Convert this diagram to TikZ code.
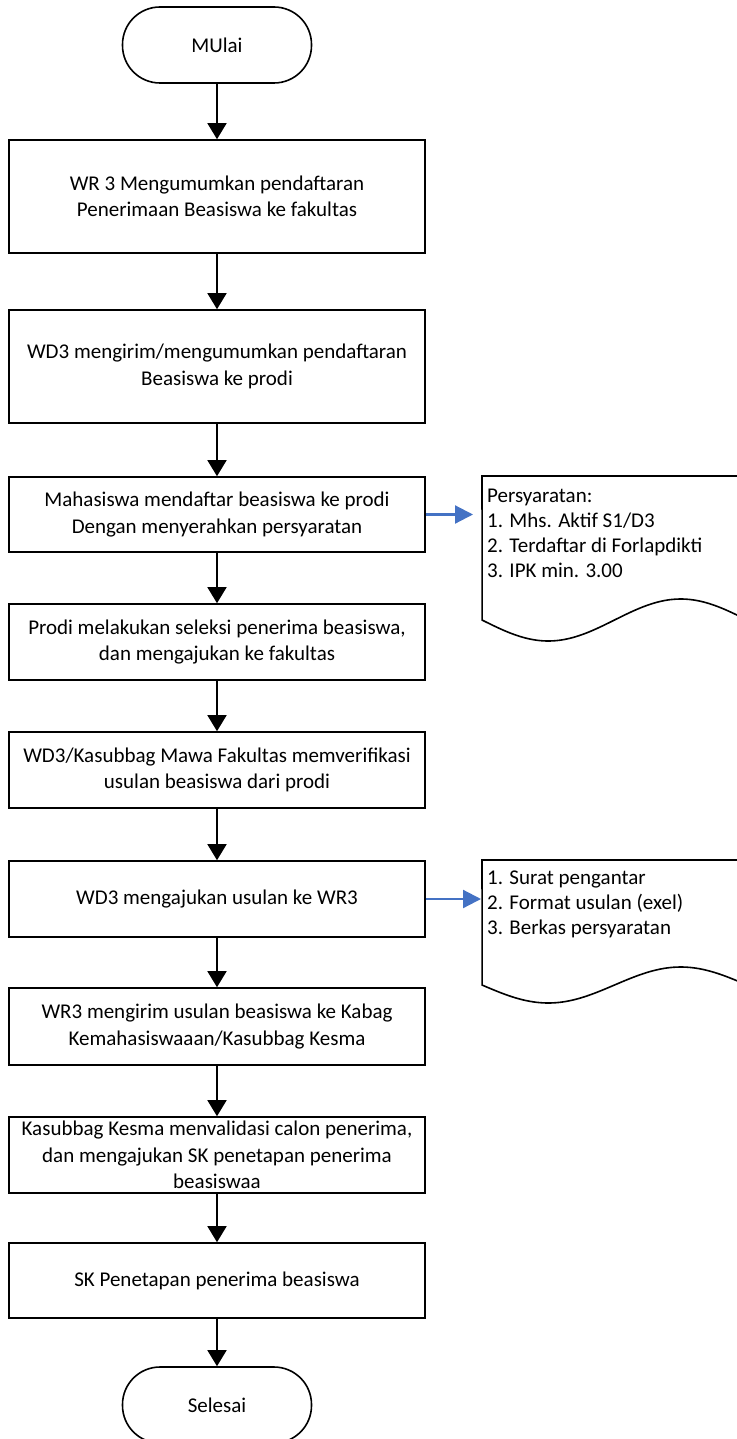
\documentclass[tikz,border=0pt]{standalone}
\usepackage{fontspec}
\setmainfont{Carlito}
\usetikzlibrary{arrows.meta}
\definecolor{noteblue}{HTML}{4472C4}
\begin{document}
\begin{tikzpicture}[x=1pt,y=-1pt,
  txt/.style={font=\fontsize{21}{26.5}\selectfont},
  proc/.style={txt,draw,line width=1.6pt,minimum width=416pt,align=center,inner sep=0pt},
  term/.style={txt,draw,line width=1.6pt,rounded corners=37.5pt,minimum width=189pt,minimum height=76pt,inner sep=0pt},
  flow/.style={line width=1.6pt,-{Triangle[length=16pt,width=19pt]}},
  note/.style={line width=2.2pt,draw=noteblue,-{Triangle[length=18pt,width=18pt]},color=noteblue},
  docline/.style={line width=1.6pt},
  doctext/.style={font=\fontsize{21}{25}\selectfont,align=left,inner sep=0pt,anchor=west}
]
\useasboundingbox (0,0) rectangle (736,1439);

\node[term] (m) at (217,45) {MUlai};
\node[proc,minimum height=113pt] (b1) at (217,196.5) {WR 3 Mengumumkan pendaftaran\\Penerimaan Beasiswa ke fakultas};
\node[proc,minimum height=113pt] (b2) at (217,366.5) {WD3 mengirim/mengumumkan pendaftaran\\Beasiswa ke prodi};
\node[proc,minimum height=75pt] (b3) at (217,514.5) {Mahasiswa mendaftar beasiswa ke prodi\\Dengan menyerahkan persyaratan};
\node[proc,minimum height=76pt] (b4) at (217,642) {Prodi melakukan seleksi penerima beasiswa,\\dan mengajukan ke fakultas};
\node[proc,minimum height=76pt] (b5) at (217,770) {WD3/Kasubbag Mawa Fakultas memverifikasi\\usulan beasiswa dari prodi};
\node[proc,minimum height=76pt] (b6) at (217,899) {WD3 mengajukan usulan ke WR3};
\node[proc,minimum height=77pt] (b7) at (217,1026.5) {WR3 mengirim usulan beasiswa ke Kabag\\Kemahasiswaaan/Kasubbag Kesma};
\node[proc,minimum height=76pt] (b8) at (217,1155) {Kasubbag Kesma menvalidasi calon penerima,\\dan mengajukan SK penetapan penerima\\beasiswaa};
\node[proc,minimum height=75pt] (b9) at (217,1280.5) {SK Penetapan penerima beasiswa};
\node[term] (s) at (217,1405) {Selesai};

% documents
\draw[docline] (482,476) -- (750,476) -- (750,620)
  -- plot[domain=1:0,samples=80] ({482+265*\x},{620+21*sin(360*\x)}) -- cycle;
\coordinate (d1) at (482,514.5);
\node[doctext] (t1) at (487,533) {Persyaratan:\\1. Mhs. Aktif S1/D3\\2. Terdaftar di Forlapdikti\\3. IPK min. 3.00};

\draw[docline] (482,860) -- (750,860) -- (750,985)
  -- plot[domain=1:0,samples=80] ({482+265*\x},{985+18*sin(360*\x)}) -- cycle;
\coordinate (d2) at (482,899);
\node[doctext] (t2) at (487,904) {1. Surat pengantar\\2. Format usulan (exel)\\3. Berkas persyaratan};

% connectors
\draw[flow] (m) -- (b1);
\draw[flow] (b1) -- (b2);
\draw[flow] (b2) -- (b3);
\draw[flow] (b3) -- (b4);
\draw[flow] (b4) -- (b5);
\draw[flow] (b5) -- (b6);
\draw[flow] (b6) -- (b7);
\draw[flow] (b7) -- (b8);
\draw[flow] (b8) -- (b9);
\draw[flow] (b9) -- (s);
\draw[note,shorten >=9pt] (b3.east) -- (d1);
\draw[note,shorten >=1pt] (b6.east) -- (d2);
\end{tikzpicture}
\end{document}
